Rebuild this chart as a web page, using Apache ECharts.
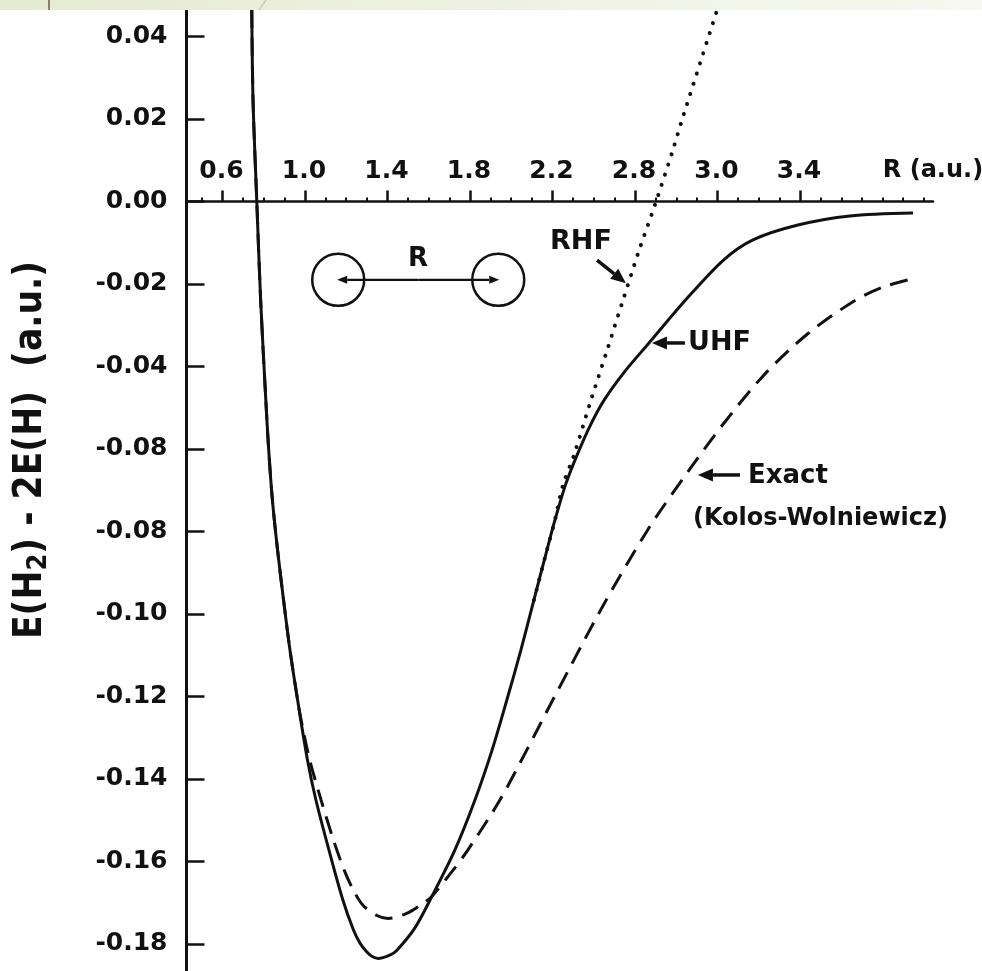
<!DOCTYPE html>
<html>
<head>
<meta charset="utf-8">
<title>H2 potential curves</title>
<script src="https://cdn.jsdelivr.net/npm/echarts@6/dist/echarts.min.js"></script>
<style>
html, body { margin: 0; padding: 0; background: #fff; }
#main { width: 982px; height: 971px; }
</style>
</head>
<body>
<div id="main"></div>
<script type="text/javascript">
// tick positions and the labels as printed on the original figure
var xTickValues = [0.6, 1.0, 1.4, 1.8, 2.2, 2.6, 3.0, 3.4];
var xTickLabels = ['0.6', '1.0', '1.4', '1.8', '2.2', '2.8', '3.0', '3.4'];
var xMinorValues = [0.5, 0.7, 0.8, 0.9, 1.1, 1.2, 1.3, 1.5, 1.6, 1.7, 1.9, 2.0, 2.1, 2.3, 2.4, 2.5,
                    2.7, 2.8, 2.9, 3.1, 3.2, 3.3, 3.5, 3.6, 3.7, 3.8, 3.9, 4.0];
var yTickValues = [0.04, 0.02, 0, -0.02, -0.04, -0.06, -0.08, -0.10, -0.12, -0.14, -0.16, -0.18];
var yTickLabels = ['0.04', '0.02', '0.00', '-0.02', '-0.04', '-0.08', '-0.08', '-0.10', '-0.12', '-0.14', '-0.16', '-0.18'];

// UHF (solid)
var uhfR = [0.742, 0.748, 0.766, 0.785, 0.810, 0.824, 0.842, 0.867, 0.896, 0.927, 0.964, 1.012, 1.053, 1.116,
            1.184, 1.235, 1.267, 1.299, 1.322, 1.354, 1.411, 1.446, 1.533, 1.616, 1.727, 1.824, 1.907, 1.979,
            2.047, 2.110, 2.173, 2.212, 2.263, 2.319, 2.384, 2.451, 2.549, 2.668, 2.845, 3.029, 3.172, 3.390,
            3.642, 3.948];
var uhfE = [0.0464, 0.0246, 0.0004, -0.0239, -0.0481, -0.0602, -0.0724, -0.0845, -0.0966, -0.1087, -0.1208, -0.1354, -0.1451, -0.1572,
            -0.1694, -0.1766, -0.1798, -0.1819, -0.1829, -0.1835, -0.1827, -0.1815, -0.1761, -0.1684, -0.1572, -0.1451, -0.1330, -0.1208,
            -0.1087, -0.0966, -0.0845, -0.0772, -0.0687, -0.0615, -0.0542, -0.0481, -0.0413, -0.0343, -0.0239, -0.0142, -0.0093, -0.0057,
            -0.0035, -0.0028];

// RHF (dotted), from where it leaves the UHF curve
var rhfR = [2.110, 2.173, 2.212, 2.251, 2.304, 2.387, 2.465, 2.542, 2.620, 2.697, 2.784, 2.828, 2.998];
var rhfE = [-0.0966, -0.0845, -0.0772, -0.0687, -0.0615, -0.0481, -0.0360, -0.0239, -0.0118, -0.0008, 0.0125, 0.0198, 0.0464];

// Exact, Kolos-Wolniewicz (dashed)
var exactR = [0.742, 0.748, 0.766, 0.785, 0.810, 0.824, 0.842, 0.867, 0.896, 0.927, 0.964, 0.981, 1.023, 1.078,
              1.138, 1.190, 1.234, 1.281, 1.349, 1.402, 1.493, 1.574, 1.616, 1.718, 1.790, 1.945, 2.075, 2.202,
              2.445, 2.663, 2.857, 3.027, 3.230, 3.439, 3.657, 3.800, 3.958];
var exactE = [0.0464, 0.0246, 0.0004, -0.0239, -0.0481, -0.0602, -0.0724, -0.0845, -0.0966, -0.1087, -0.1208, -0.1257, -0.1354, -0.1451,
              -0.1548, -0.1621, -0.1669, -0.1706, -0.1731, -0.1738, -0.1726, -0.1701, -0.1684, -0.1621, -0.1572, -0.1451, -0.1330, -0.1208,
              -0.0980, -0.0795, -0.0655, -0.0540, -0.0418, -0.0320, -0.0243, -0.0208, -0.0186];

function pairs(a, b) {
    return a.map(function (v, i) { return [v, b[i]]; });
}
function pickLabel(values, labels, v) {
    for (var i = 0; i < values.length; i++) {
        if (Math.abs(values[i] - v) < 1e-9) return labels[i];
    }
    return '';
}

var ink = '#111';
var tickFont = '"DejaVu Sans", sans-serif';
var xMin = 0.4255, xMax = 4.0448;

var myChart = echarts.init(document.getElementById('main'));
var option = {
    animation: false,
    backgroundColor: '#fff',
    grid: { left: 186.5, right: 49, top: 10, bottom: 0, outerBoundsMode: 'none' },
    xAxis: [{
        type: 'value', min: xMin, max: xMax, position: 'top',
        axisLine: { onZero: true, onZeroAxisIndex: 0, lineStyle: { color: ink, width: 2.5 } },
        axisTick: { show: true, inside: false, length: 11, customValues: xTickValues, lineStyle: { color: ink, width: 2.5 } },
        axisLabel: { show: false },   // drawn below, sitting on the zero line
        splitLine: { show: false },
        name: 'R (a.u.)', nameLocation: 'end', nameGap: 0,
        nameTextStyle: { color: ink, fontSize: 24, fontWeight: 'bold', fontFamily: tickFont,
                         align: 'center', verticalAlign: 'bottom', padding: [0, 0, 19, 0] }
    }, {
        type: 'value', min: xMin, max: xMax, position: 'top',
        axisLine: { show: false, onZero: true, onZeroAxisIndex: 0 },
        axisTick: { show: true, inside: false, length: 4, customValues: xMinorValues, lineStyle: { color: ink, width: 2 } },
        axisLabel: { show: false },
        splitLine: { show: false }
    }],
    yAxis: {
        type: 'value', min: -0.18655, max: 0.04642,
        axisLine: { show: true, onZero: false, lineStyle: { color: ink, width: 3 } },
        axisTick: { show: true, inside: true, length: 18, customValues: yTickValues, lineStyle: { color: ink, width: 2.5 } },
        axisLabel: {
            margin: 19, customValues: yTickValues, color: ink,
            fontSize: 25, fontWeight: 'bold', fontFamily: tickFont,
            formatter: function (v) { return pickLabel(yTickValues, yTickLabels, v); }
        },
        splitLine: { show: false }
    },
    series: [{
        name: 'Exact', type: 'line', data: pairs(exactR, exactE), showSymbol: false, smooth: 0.3, z: 2,
        lineStyle: { color: ink, width: 3, type: [18, 10] }
    }, {
        name: 'RHF', type: 'line', data: pairs(rhfR, rhfE), showSymbol: false, smooth: 0.3, z: 2,
        lineStyle: { color: ink, width: 4, type: [0.1, 10.5], cap: 'round' }
    }, {
        name: 'UHF', type: 'line', data: pairs(uhfR, uhfE), showSymbol: false, smooth: 0.3, z: 3,
        lineStyle: { color: ink, width: 3 }
    }]
};
myChart.setOption(option);

// annotations, anchored in data coordinates
function px(r, e) { return myChart.convertToPixel({ gridIndex: 0 }, [r, e]); }
function arrow(p0, p1, headLen, headHalf, lw) {
    var dx = p1[0] - p0[0], dy = p1[1] - p0[1], L = Math.sqrt(dx * dx + dy * dy);
    var ux = dx / L, uy = dy / L;
    var bx = p1[0] - ux * headLen, by = p1[1] - uy * headLen;
    return [
        { type: 'line', shape: { x1: p0[0], y1: p0[1], x2: bx, y2: by }, style: { stroke: ink, lineWidth: lw } },
        { type: 'polygon', shape: { points: [p1, [bx - uy * headHalf, by + ux * headHalf], [bx + uy * headHalf, by - ux * headHalf]] },
          style: { fill: ink } }
    ];
}
function label(p, text, align, size, vAlign) {
    return { type: 'text', x: p[0], y: p[1], z: 10,
             style: { text: text, fill: ink, font: 'bold ' + size + 'px "DejaVu Sans", sans-serif',
                      align: align, verticalAlign: vAlign || 'middle' } };
}

var g = [];

// x tick labels above the zero line
xTickValues.forEach(function (v, i) {
    var p = px(v, 0);
    g.push(label([p[0] - 1, p[1] - 17], xTickLabels[i], 'center', 25, 'bottom'));
});

var atomL = px(1.161, -0.0190), atomR = px(1.937, -0.0190);
var mid = [(atomL[0] + atomR[0]) / 2, atomL[1]];
g.push({ type: 'circle', shape: { cx: atomL[0], cy: atomL[1], r: 26 }, style: { fill: 'none', stroke: ink, lineWidth: 2.5 } });
g.push({ type: 'circle', shape: { cx: atomR[0], cy: atomR[1], r: 26 }, style: { fill: 'none', stroke: ink, lineWidth: 2.5 } });
g = g.concat(arrow(mid, [atomL[0] - 1, atomL[1]], 10, 4, 2.2));
g = g.concat(arrow(mid, [atomR[0] + 1, atomR[1]], 10, 4, 2.2));
g.push(label(px(1.548, -0.0139), 'R', 'center', 26));

g.push(label(px(2.338, -0.0099), 'RHF', 'center', 27));
g = g.concat(arrow(px(2.416, -0.0142), px(2.556, -0.0198), 15, 6.5, 3.5));
g.push(label(px(2.857, -0.0344), 'UHF', 'left', 27));
g = g.concat(arrow(px(2.842, -0.0343), px(2.682, -0.0343), 15, 6.5, 3.5));
g.push(label(px(3.148, -0.0667), 'Exact', 'left', 26));
g = g.concat(arrow(px(3.109, -0.0663), px(2.905, -0.0663), 15, 6.5, 3.5));
g.push(label(px(2.881, -0.0770), '(Kolos-Wolniewicz)', 'left', 24));

// rotated y-axis title
var titleFont = '"DejaVu Sans Condensed", "DejaVu Sans", sans-serif';
g.push({
    type: 'text', x: 31, y: 450, rotation: Math.PI / 2, z: 10,
    style: {
        text: '{n|E(H}{s|2}{n|) - 2E(H)  (a.u.)}', fill: ink, align: 'center', verticalAlign: 'middle',
        rich: {
            n: { font: 'bold 38.5px ' + titleFont, fill: ink },
            s: { font: 'bold 27px ' + titleFont, fill: ink, padding: [16, 0, 0, 0] }
        }
    }
});

// strip of the slide background at the very top
g.push({ type: 'rect', shape: { x: 0, y: 0, width: 982, height: 10 }, z: 20,
         style: { fill: new echarts.graphic.LinearGradient(0, 0, 1, 0, [{ offset: 0, color: '#e5ead2' }, { offset: 1, color: '#f6f8f1' }]) } });
g.push({ type: 'line', shape: { x1: 49, y1: 0, x2: 49, y2: 10 }, z: 21, style: { stroke: '#6b5a45', lineWidth: 1.5 } });
g.push({ type: 'line', shape: { x1: 266, y1: 0, x2: 259, y2: 10 }, z: 21, style: { stroke: '#c9cdbb', lineWidth: 1.5 } });

myChart.setOption({ graphic: g });
</script>
</body>
</html>
